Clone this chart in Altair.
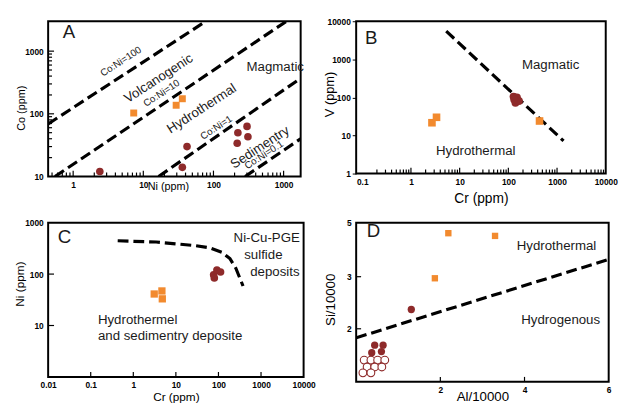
import altair as alt
import pandas as pd

FONT = "Liberation Sans"
ORANGE = "#F28A2E"
DARKRED = "#8E2A2A"

# ---------------- Panel A: Co vs Ni ----------------
a_sq_ni = [7.3, 29.4, 36.0]
a_sq_co = [103, 137, 174]
a_ci_ni = [2.4, 36, 42, 218, 223, 301, 310]
a_ci_co = [12, 14, 30, 34, 50, 63, 43]
a_line_id = ["100", "100", "10", "10", "1", "1", "0.1", "0.1"]
a_line_ni = [0.44, 78, 0.55, 1100, 16.5, 1750, 283, 1750]
a_line_co = [69, 3000, 10, 3000, 10, 369, 10, 40]
a_ratio_txt = ["Co:Ni=100", "Co:Ni=10", "Co:Ni=1", "Co:Ni=0.1"]
a_ratio_ni = [4.8, 18.2, 110, 525]
a_ratio_co = [680, 212, 60, 22]
a_field_txt = ["Volcanogenic", "Hydrothermal", "Sedimentry"]
a_field_ni = [16.5, 68, 460]
a_field_co = [365, 120, 29]

# ---------------- Panel B: V vs Cr ----------------
b_sq_cr = [2.7, 3.35, 437]
b_sq_v = [21.6, 30, 24]
b_ci_cr = [128, 150, 140, 165, 132]
b_ci_v = [105, 100, 72, 80, 88]
b_line_cr = [5.3, 1360]
b_line_v = [5500, 7.2]

# ---------------- Panel C: Ni vs Cr ----------------
c_sq_cr = [3.1, 4.7, 4.8]
c_sq_ni = [41, 47, 33]
c_ci_cr = [77, 92, 112, 80]
c_ci_ni = [97, 120, 110, 84]
c_curve_cr = [0.43, 3.45, 29, 64, 120, 186, 256, 378]
c_curve_ni = [444, 420, 357, 323, 266, 200, 130, 58.6]

# ---------------- Panel D: Si/10000 vs Al/10000 ----------------
d_sq_al = [2.19, 3.30, 1.87]
d_sq_si = [4.61, 4.51, 2.97]
d_ci_al = [1.31, 0.44, 0.64, 0.37, 0.60]
d_ci_si = [2.37, 1.69, 1.69, 1.55, 1.57]
d_open_al = [0.19, 0.35, 0.51, 0.68, 0.26, 0.44, 0.61, 0.16, 0.35]
d_open_si = [1.41, 1.41, 1.41, 1.41, 1.28, 1.28, 1.28, 1.17, 1.17]
d_line_al = [0, 6]
d_line_si = [1.83, 3.64]


def df(x, y, **extra):
    d = pd.DataFrame({"x": x, "y": y})
    for k, v in extra.items():
        d[k] = v
    return d


def x_axis(values, title, title_y, title_x=None, fmt="~g", tsize=13, lsize=8.5):
    kw = dict(values=values, format=fmt, title=title, ticks=False, tickSize=0,
              domain=False, grid=False, labelOverlap=False, labelFlush=False,
              labelPadding=4, labelFont=FONT, labelFontSize=lsize,
              labelFontWeight="bold", labelColor="black", titleFont=FONT,
              titleFontSize=tsize, titleFontWeight="normal", titleColor="black",
              titleBaseline="top", titleY=title_y)
    if title_x is not None:
        kw["titleX"] = title_x
    return alt.Axis(**kw)


def y_axis(values, title, title_x, title_y, fmt="~g", ticks=False, tsize=13,
           lsize=8.5):
    kw = dict(values=values, format=fmt, title=title, domain=False, grid=False,
              labelOverlap=False, labelFlush=False, labelPadding=5,
              labelFont=FONT, labelFontSize=lsize, labelFontWeight="bold",
              labelColor="black", titleFont=FONT, titleFontSize=tsize,
              titleFontWeight="normal", titleColor="black", titleAngle=270,
              titleAlign="center", titleBaseline="bottom", titleX=title_x,
              titleY=title_y)
    if ticks:
        kw.update(ticks=True, tickSize=4, tickColor="black", labelPadding=2)
    else:
        kw.update(ticks=False, tickSize=0)
    return alt.Axis(**kw)


def dashed(data, X, Y, detail=None):
    enc = dict(x=X, y=Y, order=alt.Order("i:Q"))
    if detail:
        enc["detail"] = alt.Detail(detail)
    return alt.Chart(data).mark_line(
        color="black", strokeWidth=3.2, strokeDash=[11, 5], clip=True
    ).encode(**enc)


def squares(data, X, Y, size=50):
    return alt.Chart(data).mark_square(color=ORANGE, opacity=1, size=size).encode(x=X, y=Y)


def dots(data, X, Y, size=55):
    return alt.Chart(data).mark_circle(color=DARKRED, opacity=1, size=size).encode(x=X, y=Y)


def texts(data, X, Y, size=13.5, angle=0, align="center"):
    return alt.Chart(data).mark_text(
        font=FONT, fontSize=size, angle=angle, align=align, baseline="middle",
        color="#1a1a1a"
    ).encode(x=X, y=Y, text="t:N")


# Inward ticks along the bottom edge: rules from the axis floor up a short way
def xticks(vals, X, y0, y1):
    return alt.Chart(pd.DataFrame({"x": vals})).mark_rule(
        color="black", strokeWidth=1.2
    ).encode(x=X, y=alt.datum(y0), y2=alt.datum(y1))


# Inward ticks along the left edge
def yticks(vals, Y, x0, x1):
    return alt.Chart(pd.DataFrame({"y": vals})).mark_rule(
        color="black", strokeWidth=1.2
    ).encode(y=Y, x=alt.datum(x0), x2=alt.datum(x1))


def log_minor(lo, hi):
    out = []
    for e in range(-3, 5):
        for k in range(2, 10):
            v = k * 10.0 ** e
            if lo < v < hi:
                out.append(v)
    return out


# ---------- A ----------
AW, AH = 257, 158
AX = alt.X("x:Q", scale=alt.Scale(type="log", domain=[0.44, 1750], nice=False),
           axis=x_axis([1, 10, 100, 1000], "Ni (ppm)", 4, 122, tsize=11))
AY = alt.Y("y:Q", scale=alt.Scale(type="log", domain=[10, 3000], nice=False),
           axis=y_axis([10, 100, 1000], "Co (ppm)", -22, 88, tsize=11))
a_lines = df(a_line_ni, a_line_co, id=a_line_id, i=list(range(len(a_line_ni))))
panel_a = alt.layer(
    xticks(log_minor(0.44, 1000), AX, 10, 11.55),
    xticks([1, 10, 100, 1000], AX, 10, 12.4),
    yticks(log_minor(10, 1000), AY, 0.44, 0.50),
    yticks([100, 1000], AY, 0.44, 0.534),
    dashed(a_lines, AX, AY, "id:N"),
    squares(df(a_sq_ni, a_sq_co), AX, AY, 50),
    dots(df(a_ci_ni, a_ci_co), AX, AY, 60),
    texts(df([0.71], [1980], t=["A"]), AX, AY, 19, 0, "left"),
    texts(df([760], [560], t=["Magmatic"]), AX, AY, 13.5),
    texts(df(a_field_ni, a_field_co, t=a_field_txt), AX, AY, 13.5, 327),
    texts(df(a_ratio_ni, a_ratio_co, t=a_ratio_txt), AX, AY, 10, 327),
).properties(width=AW, height=AH)

# ---------- B ----------
BW, BH = 254, 155
BX = alt.X("x:Q", scale=alt.Scale(type="log", domain=[0.075, 10000], nice=False),
           axis=x_axis([0.1, 1, 10, 100, 1000, 10000], "Cr (ppm)", 18, tsize=14))
BY = alt.Y("y:Q", scale=alt.Scale(type="log", domain=[1, 10000], nice=False),
           axis=y_axis([1, 10, 100, 1000, 10000], "V (ppm)", -20, 74, ticks=True))
panel_b = alt.layer(
    xticks(log_minor(0.1, 10000), BX, 1, 1.268),
    xticks([1, 10, 100, 1000], BX, 1, 1.43),
    dashed(df(b_line_cr, b_line_v, i=[0, 1]), BX, BY),
    squares(df(b_sq_cr, b_sq_v), BX, BY, 60),
    dots(df(b_ci_cr, b_ci_v), BX, BY, 65),
    texts(df([0.114], [3700], t=["B"]), BX, BY, 19, 0, "left"),
    texts(df([740, 21.4], [690, 4.0], t=["Magmatic", "Hydrothermal"]), BX, BY, 13.5),
).properties(width=BW, height=BH)

# ---------- C ----------
CW, CH = 260, 157
CX = alt.X("x:Q", scale=alt.Scale(type="log", domain=[0.01, 10000], nice=False),
           axis=x_axis([0.01, 0.1, 1, 10, 100, 1000, 10000], "Cr (ppm)", 15,
                       tsize=12))
CY = alt.Y("y:Q", scale=alt.Scale(type="log", domain=[1, 1000], nice=False),
           axis=y_axis([10, 100, 1000], "Ni (ppm)", -22, 62, tsize=12))
panel_c = alt.layer(
    xticks([0.1, 1, 10, 100, 1000], CX, 1, 1.246),
    yticks([10, 100], CY, 0.01, 0.01375),
    dashed(df(c_curve_cr, c_curve_ni, i=list(range(len(c_curve_cr)))), CX, CY),
    squares(df(c_sq_cr, c_sq_ni), CX, CY, 55),
    dots(df(c_ci_cr, c_ci_ni), CX, CY, 60),
    texts(df([0.0167], [515], t=["C"]), CX, CY, 19, 0, "left"),
    texts(df([1360, 1136, 2117], [499, 231, 108],
             t=["Ni-Cu-PGE", "sulfide", "deposits"]), CX, CY, 13.5),
    texts(df([0.1475, 0.1475], [12.8, 6.2],
             t=["Hydrothermel", "and sedimentry deposite"]), CX, CY, 13.5, 0, "left"),
).properties(width=CW, height=CH)

# ---------- D ----------
DW, DH = 257, 162
DX = alt.X("x:Q", scale=alt.Scale(domain=[0, 6], nice=False, zero=False),
           axis=x_axis([2, 4, 6], "Al/10000", 8, fmt="d", tsize=13.5))
DY = alt.Y("y:Q", scale=alt.Scale(domain=[1, 2, 3, 5], range=[162, 108, 55, 0],
                                  nice=False, zero=False),
           axis=y_axis([2, 3, 5], "Si/10000", -19, 78, fmt="d", tsize=13.5))
panel_d = alt.layer(
    xticks([2, 4], DX, 1, 1.093),
    yticks([2, 3], DY, 0, 0.117),
    dashed(df(d_line_al, d_line_si, i=[0, 1]), DX, DY),
    alt.Chart(df(d_open_al, d_open_si)).mark_point(
        shape="circle", filled=True, fill="white", stroke=DARKRED,
        strokeWidth=1.1, size=62, opacity=1
    ).encode(x=DX, y=DY),
    dots(df(d_ci_al, d_ci_si), DX, DY, 55),
    squares(df(d_sq_al, d_sq_si), DX, DY, 42),
    texts(df([0.25], [4.7], t=["D"]), DX, DY, 19, 0, "left"),
    texts(df([4.76, 4.86], [4.13, 2.17], t=["Hydrothermal", "Hydrogenous"]), DX, DY, 13.5),
).properties(width=DW, height=DH)

chart = alt.concat(
    panel_a, panel_b, panel_c, panel_d,
    columns=2, spacing={"row": 47, "column": 53.5}, bounds="flush", align="each",
).properties(
    padding={"left": 13, "top": 13, "right": 0, "bottom": 0},
    background="white",
).configure_view(stroke="black", strokeWidth=2)

chart.save("out.html", embed_options={"renderer": "svg", "actions": False})
